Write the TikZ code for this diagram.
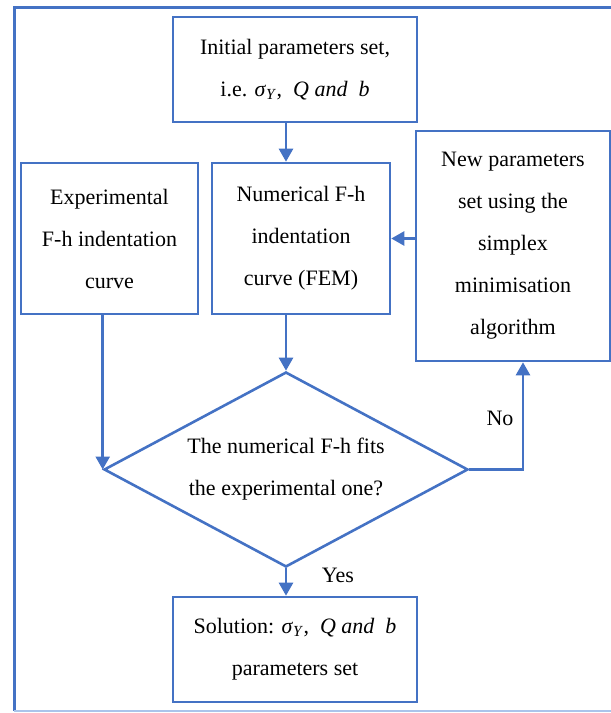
\documentclass[tikz,border=0pt]{standalone}
\usepackage{fontspec}
\setmainfont{Liberation Serif}
\usetikzlibrary{shapes.geometric,arrows.meta}
\definecolor{lineblue}{RGB}{68,114,196}
\definecolor{paleblue}{RGB}{170,196,235}
\tikzset{
  boxnode/.style={draw=lineblue, line width=2.6pt, rectangle, align=center, inner sep=0pt,
    font=\fontsize{22}{42}\selectfont},
  decnode/.style={draw=lineblue, line width=2.6pt, diamond, aspect=1.87, align=center, inner sep=0pt,
    font=\fontsize{22}{42}\selectfont},
  lbl/.style={font=\fontsize{22}{25}\selectfont, inner sep=0pt},
  flow/.style={draw=lineblue, line width=2.6pt, -{Triangle[width=14pt,length=13pt]}},
}
\begin{document}
\begin{tikzpicture}[x=1pt,y=-1pt]
\useasboundingbox (0,0) rectangle (611,713);
% outer frame
\draw[lineblue, line width=3pt] (620,7) -- (14,7) -- (14,711);
\draw[paleblue, line width=2.5pt] (14,711) -- (620,711);

\node[boxnode, minimum width=244pt, minimum height=105pt] (init) at (295,69.5)
  {Initial parameters set,\\ i.e. \textit{σ}\textsubscript{\textit{Y}},\ \ \textit{Q and\ \ b}};
\node[boxnode, minimum width=177pt, minimum height=151pt] (exp) at (109.5,238.5)
  {Experimental\\ F-h indentation\\ curve};
\node[boxnode, minimum width=178pt, minimum height=151pt] (num) at (301,238.5)
  {Numerical F-h\\ indentation\\ curve (FEM)};
\node[boxnode, minimum width=194pt, minimum height=230pt] (new) at (513,246)
  {New parameters\\ set using the\\ simplex\\ minimisation\\ algorithm};
\node[decnode, minimum width=364pt, minimum height=195pt] (dec) at (286,469.5)
  {The numerical F-h fits\\ the experimental one?};
\node[boxnode, minimum width=244pt, minimum height=105pt] (sol) at (295,649.5)
  {Solution: \textit{σ}\textsubscript{\textit{Y}},\ \ \textit{Q and\ \ b}\\ parameters set};

\node[lbl] (no) at (500,418) {No};
\node[lbl] (yes) at (338,575) {Yes};
\coordinate (nocorner) at (523,469.5);

\draw[flow] (init.south -| dec.north) -- (num.north -| dec.north);
\draw[flow] (num.east -| new.west) -- (num.east);
\draw[flow] (num.south -| dec.north) -- (dec.north);
\draw[flow] (exp.south -| dec.west) -- (dec.west);
\draw[flow] (dec.east) -- (nocorner) -- (new.south -| nocorner);
\draw[flow] (dec.south) -- (sol.north -| dec.south);
\end{tikzpicture}
\end{document}
